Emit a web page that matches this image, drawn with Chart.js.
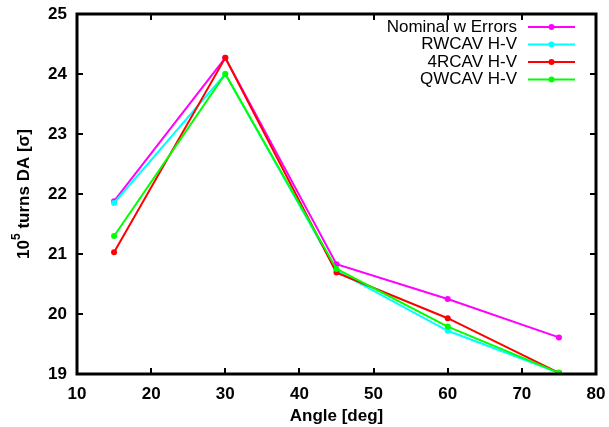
<!DOCTYPE html>
<html lang="en">
<head>
<meta charset="utf-8">
<style>
  html, body { margin: 0; padding: 0; background: #fff; }
  #wrap { width: 609px; height: 427px; }
</style>
</head>
<body>
<div id="wrap"><canvas id="myChart" width="609" height="427"></canvas></div>
<script src="https://cdn.jsdelivr.net/npm/chart.js"></script>
<script>
// angles (deg)
const angles = [15, 30, 45, 60, 75];
// DA values
const nominal = [21.88, 24.27, 20.83, 20.25, 19.61];
const rwcav   = [21.85, 24.00, 20.72, 19.72, 19.02];
const rcav4   = [21.03, 24.27, 20.69, 19.93, 19.02];
const qwcav   = [21.30, 24.00, 20.75, 19.79, 19.02];

const seriesNames  = ['Nominal w Errors', 'RWCAV H-V', '4RCAV H-V', 'QWCAV H-V'];
const seriesColors = ['#ff00ff', '#00ffff', '#ff0000', '#00ff00'];
const xTicks = [10, 20, 30, 40, 50, 60, 70, 80];
const yTicks = [19, 20, 21, 22, 23, 24, 25];

const FONT = 'Liberation Sans, Arial, Helvetica, sans-serif';

const toPoints = (vals) => vals.map((v, i) => ({ x: angles[i], y: v }));
const allSeries = [nominal, rwcav, rcav4, qwcav];

const datasets = allSeries.map((vals, i) => ({
    label: seriesNames[i],
    data: toPoints(vals),
    borderColor: seriesColors[i],
    backgroundColor: seriesColors[i],
    borderWidth: 2,
    pointRadius: 3,
    pointHoverRadius: 3,
    pointBorderWidth: 0,
    tension: 0,
    order: allSeries.length - i   // later series drawn on top, like gnuplot
}));

// gnuplot-ish frame: box border plus inward ticks on all four sides
const framePlugin = {
    id: 'frame',
    afterDatasetsDraw(chart) {
        const { ctx, chartArea: a, scales: { x, y } } = chart;
        ctx.save();
        ctx.strokeStyle = '#000';
        ctx.lineWidth = 2;
        ctx.beginPath();
        xTicks.forEach(t => {
            const px = Math.round(x.getPixelForValue(t));
            ctx.moveTo(px, a.bottom); ctx.lineTo(px, a.bottom - 6);
            ctx.moveTo(px, a.top); ctx.lineTo(px, a.top + 6);
        });
        yTicks.forEach(t => {
            const py = Math.round(y.getPixelForValue(t));
            ctx.moveTo(a.left, py); ctx.lineTo(a.left + 6, py);
            ctx.moveTo(a.right, py); ctx.lineTo(a.right - 6, py);
        });
        ctx.stroke();
        ctx.lineWidth = 3;
        ctx.strokeRect(a.left, a.top, a.right - a.left, a.bottom - a.top);
        ctx.restore();
    }
};

// y title with a real superscript: 10^5 turns DA [sigma]
const yTitlePlugin = {
    id: 'ytitle',
    afterDraw(chart) {
        const { ctx, chartArea: a } = chart;
        const big = 'bold 17px ' + FONT, small = 'bold 12px ' + FONT;
        const parts = [['10', big, 0], ['5', small, -7], [' turns DA [\u03c3]', big, 0]];
        ctx.save();
        let total = 0;
        parts.forEach(p => { ctx.font = p[1]; total += ctx.measureText(p[0]).width; });
        ctx.translate(18, (a.top + a.bottom) / 2);
        ctx.rotate(-Math.PI / 2);
        ctx.fillStyle = '#000';
        ctx.textBaseline = 'middle';
        ctx.textAlign = 'left';
        let cx = -total / 2;
        parts.forEach(p => {
            ctx.font = p[1];
            ctx.fillText(p[0], cx, p[2] + 6);
            cx += ctx.measureText(p[0]).width;
        });
        ctx.restore();
    }
};

// legend inside top-right: right-aligned label, then line sample with a point
const keyPlugin = {
    id: 'key',
    afterDatasetsDraw(chart) {
        const { ctx, chartArea: a } = chart;
        ctx.save();
        ctx.font = '17px ' + FONT;
        ctx.textAlign = 'right';
        ctx.textBaseline = 'middle';
        const textRight = a.right - 79;
        const lineL = a.right - 68, lineR = a.right - 21;
        seriesNames.forEach((name, i) => {
            const yy = a.top + 13 + i * 17.5;
            ctx.fillStyle = '#000';
            ctx.fillText(name, textRight, yy);
            ctx.strokeStyle = seriesColors[i];
            ctx.lineWidth = 2;
            ctx.beginPath();
            ctx.moveTo(lineL, yy); ctx.lineTo(lineR, yy);
            ctx.stroke();
            ctx.fillStyle = seriesColors[i];
            ctx.beginPath();
            ctx.arc((lineL + lineR) / 2, yy, 3, 0, Math.PI * 2);
            ctx.fill();
        });
        ctx.restore();
    }
};

new Chart(document.getElementById('myChart'), {
    type: 'line',
    data: { datasets },
    options: {
        responsive: false,
        animation: false,
        events: [],
        layout: { padding: { top: 14, right: 13, left: 0, bottom: 0 } },
        plugins: { legend: { display: false }, tooltip: { enabled: false } },
        scales: {
            x: {
                type: 'linear',
                min: 10, max: 80,
                afterBuildTicks: s => { s.ticks = xTicks.map(v => ({ value: v })); },
                afterFit: s => { s.height = 53; s.paddingLeft = 0; s.paddingRight = 0; },
                grid: { display: false, drawTicks: false },
                border: { display: false },
                ticks: { color: '#000', padding: 10, font: { family: FONT, size: 17, weight: 'bold' } },
                title: {
                    display: true, text: 'Angle [deg]', color: '#000', padding: { top: 3, bottom: 0 },
                    font: { family: FONT, size: 17, weight: 'bold' }
                }
            },
            y: {
                type: 'linear',
                min: 19, max: 25,
                afterBuildTicks: s => { s.ticks = yTicks.map(v => ({ value: v })); },
                afterFit: s => { s.width = 77; s.paddingTop = 0; s.paddingBottom = 0; },
                grid: { display: false, drawTicks: false },
                border: { display: false },
                ticks: { color: '#000', padding: 10, font: { family: FONT, size: 17, weight: 'bold' } },
                title: { display: false }
            }
        }
    },
    plugins: [framePlugin, keyPlugin, yTitlePlugin]
});
</script>
</body>
</html>
